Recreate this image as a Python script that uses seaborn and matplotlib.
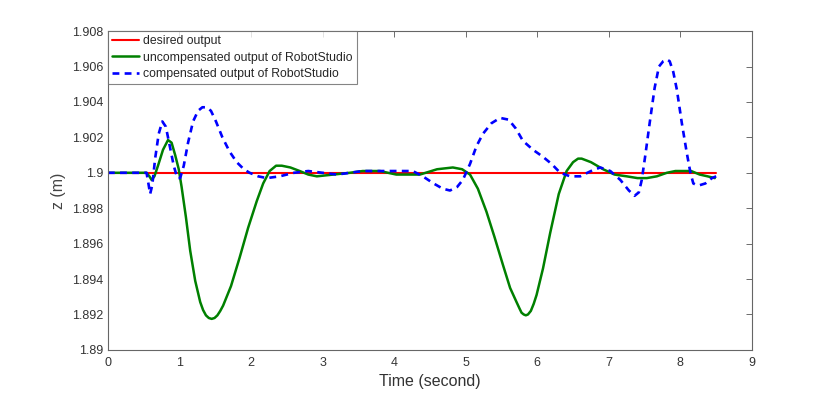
import matplotlib
matplotlib.use('Agg')
import matplotlib.pyplot as plt
import seaborn as sns
import pandas as pd

# desired output (constant)
t_desired = [0, 8.5]
z_desired = [1.9, 1.9]

# uncompensated output of RobotStudio
t_uncomp = [0, 0.54, 0.58, 0.61, 0.65, 0.70, 0.77, 0.84, 0.89, 0.94, 0.99, 1.03, 1.09, 1.15, 1.22, 1.29, 1.33,
            1.37, 1.41, 1.45, 1.49, 1.53, 1.57, 1.61, 1.72, 1.84, 1.96, 2.08, 2.17, 2.26, 2.35, 2.43, 2.55, 2.68,
            2.80, 2.92, 3.15, 3.38, 3.56, 3.80, 4.03, 4.20, 4.36, 4.60, 4.82, 4.95, 5.06, 5.17, 5.29, 5.40, 5.52,
            5.62, 5.71, 5.75, 5.78, 5.81, 5.84, 5.87, 5.91, 5.95, 5.99, 6.08, 6.18, 6.30, 6.41, 6.50, 6.57, 6.62,
            6.75, 6.92, 7.08, 7.25, 7.40, 7.53, 7.67, 7.81, 7.93, 8.04, 8.15, 8.27, 8.38, 8.48]
z_uncomp = [1.9, 1.9, 1.8998, 1.8996, 1.8998, 1.9004, 1.9013, 1.90185, 1.9017, 1.9010, 1.9002, 1.8992, 1.8975,
            1.8956, 1.8939, 1.8927, 1.89225, 1.89195, 1.8918, 1.89175, 1.8918, 1.89195, 1.8922, 1.8925, 1.8936,
            1.8952, 1.8969, 1.8984, 1.8994, 1.9001, 1.9004, 1.9004, 1.9003, 1.9001, 1.8999, 1.8998, 1.8999,
            1.9000, 1.9001, 1.9001, 1.8999, 1.8999, 1.8999, 1.9002, 1.9003, 1.9002, 1.8999, 1.8991, 1.8978,
            1.8964, 1.8948, 1.8935, 1.8927, 1.89235, 1.8921, 1.8920, 1.89195, 1.8920, 1.8922, 1.8926, 1.8931,
            1.8946, 1.8966, 1.8988, 1.9001, 1.9006, 1.9008, 1.9008, 1.9006, 1.9002, 1.8999, 1.8998, 1.8997,
            1.8997, 1.8998, 1.9000, 1.9001, 1.9001, 1.9001, 1.8999, 1.8998, 1.8997]

# compensated output of RobotStudio
t_comp = [0, 0.54, 0.57, 0.59, 0.62, 0.66, 0.71, 0.76, 0.81, 0.86, 0.92, 0.97, 1.01, 1.06, 1.12, 1.19, 1.26,
          1.32, 1.38, 1.44, 1.51, 1.60, 1.70, 1.80, 1.90, 1.98, 2.10, 2.22, 2.40, 2.60, 2.80, 3.00, 3.20, 3.56,
          3.90, 4.26, 4.40, 4.55, 4.68, 4.78, 4.88, 4.96, 5.06, 5.15, 5.24, 5.36, 5.48, 5.60, 5.70, 5.80, 5.94,
          6.08, 6.20, 6.32, 6.46, 6.60, 6.75, 6.88, 7.02, 7.16, 7.28, 7.36, 7.42, 7.46, 7.51, 7.57, 7.64, 7.70,
          7.76, 7.81, 7.85, 7.90, 7.95, 8.02, 8.09, 8.14, 8.18, 8.23, 8.27, 8.35, 8.44, 8.50]
z_comp = [1.9, 1.9, 1.8993, 1.8988, 1.8993, 1.9008, 1.9022, 1.9029, 1.9026, 1.9016, 1.9004, 1.8997, 1.8997,
          1.9004, 1.9017, 1.9029, 1.9035, 1.9037, 1.9037, 1.9035, 1.9029, 1.9020, 1.9012, 1.9006, 1.9002,
          1.9000, 1.8998, 1.8997, 1.8998, 1.9000, 1.9001, 1.9000, 1.8999, 1.9001, 1.9001, 1.9001, 1.8998,
          1.8994, 1.8991, 1.8990, 1.8992, 1.8996, 1.9005, 1.9015, 1.9022, 1.9028, 1.9031, 1.9030, 1.9025,
          1.9018, 1.9013, 1.9009, 1.9005, 1.9000, 1.8998, 1.8998, 1.9001, 1.9003, 1.9001, 1.8996, 1.8990,
          1.8987, 1.8989, 1.8996, 1.9010, 1.9028, 1.9048, 1.9060, 1.9063, 1.9064, 1.9063, 1.9057, 1.9047,
          1.9028, 1.9011, 1.9000, 1.8994, 1.8993, 1.8993, 1.8994, 1.8997, 1.8998]

sns.set_style('white')
plt.rcParams['font.family'] = ['Liberation Sans', 'DejaVu Sans']

fig = plt.figure(figsize=(8.3, 3.94), dpi=100)
ax = fig.add_axes([0.130, 0.112, 0.776, 0.809])

sns.lineplot(x=t_desired, y=z_desired, ax=ax, color='#ff0000', linewidth=1.5,
             label='desired output', sort=False)
sns.lineplot(x=t_uncomp, y=z_uncomp, ax=ax, color='#008000', linewidth=1.8,
             label='uncompensated output of RobotStudio', sort=False)
sns.lineplot(x=t_comp, y=z_comp, ax=ax, color='#0000ff', linewidth=1.9, linestyle=(0, (2.6, 2.0)),
             label='compensated output of RobotStudio', sort=False)

ax.set_xlim(0, 9)
ax.set_ylim(1.89, 1.908)
ax.set_xticks(range(0, 10))
yt = [1.89, 1.892, 1.894, 1.896, 1.898, 1.9, 1.902, 1.904, 1.906, 1.908]
ax.set_yticks(yt)
ax.set_yticklabels(['1.89', '1.892', '1.894', '1.896', '1.898', '1.9', '1.902', '1.904', '1.906', '1.908'])
ax.tick_params(direction='in', length=4, width=0.6, color='#555555', labelcolor='#333333',
               labelsize=9, top=True, right=True)
ax.tick_params(axis='x', pad=5)
for s in ax.spines.values():
    s.set_color('#666666')
    s.set_linewidth(0.8)

ax.set_xlabel('Time (second)', fontsize=11.5, color='#333333', labelpad=4)
ax.set_ylabel('z (m)', fontsize=11.5, color='#444444', labelpad=4)

leg = ax.legend(loc='upper left', fontsize=8.8, frameon=True, fancybox=False, borderaxespad=0,
                handlelength=2.2, handletextpad=0.3, borderpad=0.35, labelspacing=0.35)
leg.get_frame().set_edgecolor('#666666')
leg.get_frame().set_linewidth(0.8)

fig.savefig('out.png', dpi=100)
